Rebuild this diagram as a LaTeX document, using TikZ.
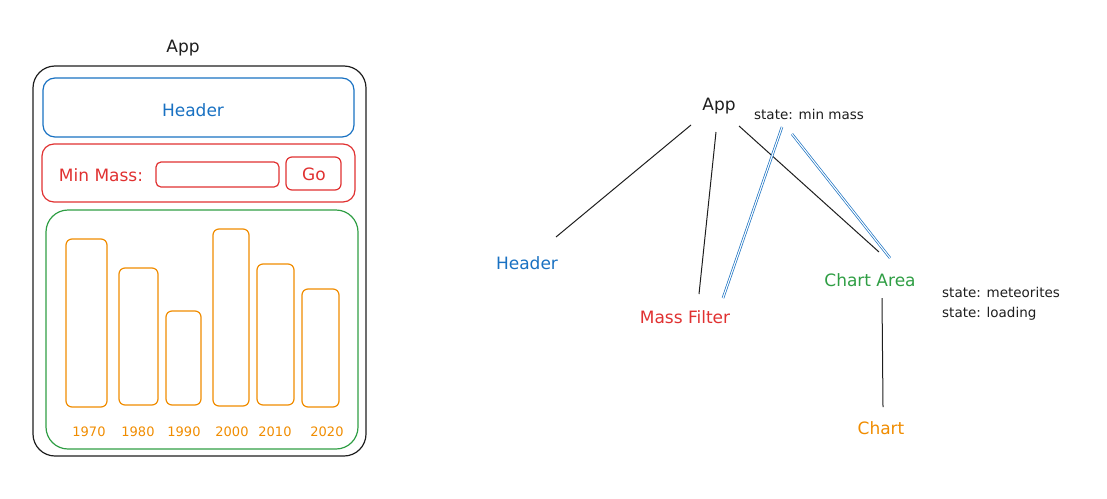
\documentclass[tikz,border=0pt]{standalone}
\usepackage{fontspec}
\setmainfont{DejaVu Sans}
\usepackage{xcolor}
\usepackage{tikz}
\usetikzlibrary{positioning, calc}

\definecolor{skblack}{HTML}{1E1E1E}
\definecolor{skblue}{HTML}{1971C2}
\definecolor{skred}{HTML}{E03131}
\definecolor{skgreen}{HTML}{2F9E44}
\definecolor{skorange}{HTML}{F08C00}

\begin{document}
\begin{tikzpicture}[x=1pt, y=-1pt,
    big/.style={inner sep=1pt, font=\fontsize{17}{20}\selectfont},
    small/.style={inner sep=1pt, font=\fontsize{13.5}{16}\selectfont, text=skblack},
    yearlbl/.style={inner sep=1pt, font=\fontsize{13}{15}\selectfont, text=skorange},
    frame/.style={line width=1.2pt, rounded corners=#1},
    edge/.style={line width=1pt, draw=skblack},
    stateedge/.style={double=white, draw=skblue, line width=0.7pt, double distance=1.1pt}]
    \useasboundingbox (0,0) rectangle (1107,498);

    % Mock-up of the page
    \node[big, text=skblack] (appL) at (183,48) {App};
    \draw[frame=22pt, skblack] (33,66) rectangle (366,456);
    \draw[frame=12pt, skblue] (43,78) rectangle (354,137);
    \node[big, text=skblue] (hdrL) at (193,110) {Header};
    \draw[frame=12pt, skred] (42,144) rectangle (355,202);
    \node[big, text=skred] (minL) at (101,175) {Min Mass:};
    \draw[frame=5pt, skred] (156,162) rectangle (279,187);
    \draw[frame=6pt, skred] (286,157) rectangle (341,190);
    \node[big, text=skred] (goL) at (314,174) {Go};
    \draw[frame=22pt, skgreen] (46,210) rectangle (358,449);

    % Bars and years
    \foreach \xl/\xr/\yt/\yb/\xt/\yr in {66/107/239/407/89/1970, 119/158/268/405/138/1980,
        166/201/311/405/184/1990, 213/249/229/406/232/2000, 257/294/264/405/275/2010,
        302/339/289/407/327/2020} {
      \draw[frame=6pt, skorange] (\xl,\yt) rectangle (\xr,\yb);
      \node[yearlbl] (y\yr) at (\xt,432) {\yr};
    }

    % Component tree
    \node[big, text=skblack] (appT) at (719,106) {App};
    \node[small] (stateT) at (809,114) {state: min mass};
    \node[big, text=skblue] (hdrT) at (527,263) {Header};
    \node[big, text=skred] (massT) at (685,317) {Mass Filter};
    \node[big, text=skgreen] (chartAT) at (870,280) {Chart Area};
    \node[small, anchor=west] (metT) at (941,292) {state: meteorites};
    \node[small, anchor=west] (loadT) at (941,314) {state: loading};
    \node[big, text=skorange] (chartT) at (881,428) {Chart};

    \draw[edge] ($(appT)+(-28,19)$) -- ($(hdrT)+(29,-26)$);
    \draw[edge] ($(appT)+(-3,26)$) -- ($(massT)+(14,-23)$);
    \draw[edge] ($(appT)+(20,20)$) -- ($(chartAT)+(9,-28)$);
    \draw[edge] ($(chartAT)+(12,18)$) -- ($(chartT)+(2,-21)$);
    \draw[stateedge] ($(stateT)+(-27,13)$) -- ($(massT)+(38,-19)$);
    \draw[stateedge] ($(stateT)+(-17,20)$) -- ($(chartAT)+(20,-22)$);
\end{tikzpicture}
\end{document}
